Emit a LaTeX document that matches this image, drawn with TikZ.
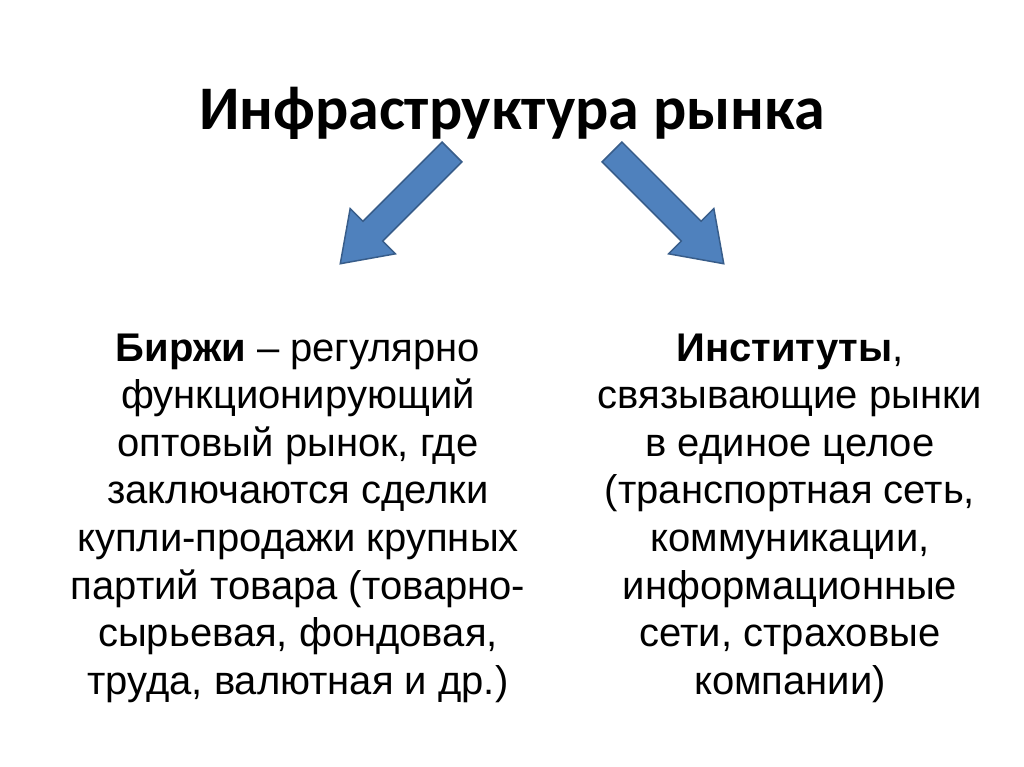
\documentclass[tikz,border=0pt]{standalone}
\usepackage{fontspec}
\setmainfont{Liberation Sans}
\newfontfamily\titlefont{Carlito}
\begin{document}
\begin{tikzpicture}[x=1pt,y=1pt,
  body/.style={align=center,font=\fontsize{40}{47.6}\selectfont,inner sep=0pt},
  blockarrow/.style={fill={rgb,255:red,79;green,129;blue,189}, draw={rgb,255:red,56;green,93;blue,138}, line width=1.5pt, line join=miter}]
\useasboundingbox (0,0) rectangle (1024,767);
\node[font=\titlefont\bfseries\fontsize{62}{70}\selectfont] (title) at (512,654) {Инфраструктура рынка};
\coordinate (ls) at (452,615);
\coordinate (rs) at (612,615);
\foreach \s/\a in {ls/225,rs/-45}{
  \draw[blockarrow,shift={(\s)},rotate=\a] (0,-14)--(112,-14)--(112,-32)--(158,0)--(112,32)--(112,14)--(0,14)--cycle;
}
\node[body] (left) at (298,249) {\textbf{Биржи} -- регулярно\\функционирующий\\оптовый рынок, где\\заключаются сделки\\купли-продажи крупных\\партий товара (товарно-\\сырьевая, фондовая,\\труда, валютная и др.)};
\node[body] (right) at (790,249) {\textbf{Институты},\\связывающие рынки\\в единое целое\\(транспортная сеть,\\коммуникации,\\информационные\\сети, страховые\\компании)};
\end{tikzpicture}
\end{document}
